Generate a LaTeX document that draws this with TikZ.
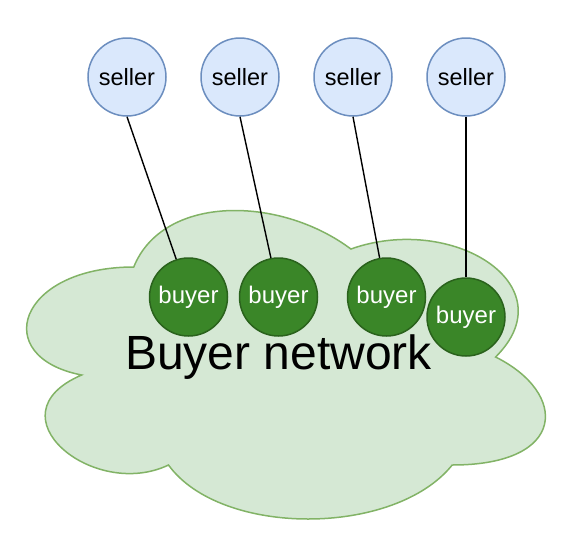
\documentclass[tikz,border=0pt]{standalone}
\usepackage{fontspec}
\setmainfont{Liberation Sans}
\usepackage{tikz}
\usetikzlibrary{positioning}
\usepackage{xcolor}
\definecolor{sellerfill}{HTML}{DAE8FC}
\definecolor{sellerline}{HTML}{6C8EBF}
\definecolor{buyerfill}{HTML}{3A8628}
\definecolor{buyerline}{HTML}{2A621C}
\definecolor{cloudfill}{HTML}{D5E8D4}
\definecolor{cloudline}{HTML}{82B366}

\begin{document}
\begin{tikzpicture}[x=1pt, y=-1pt,
  sellernode/.style={circle, draw=sellerline, fill=sellerfill, line width=1.5pt,
                     minimum size=78pt, inner sep=0pt,
                     font=\fontsize{23.5}{27}\selectfont},
  buyernode/.style={circle, draw=buyerline, fill=buyerfill, line width=1.5pt,
                    minimum size=78pt, inner sep=0pt, text=white,
                    font=\fontsize{24}{28}\selectfont},
  link/.style={draw=black, line width=1.4pt}
]
  \useasboundingbox (0,0) rectangle (576,542);

  % the buyer network cloud
  \draw[cloudline, fill=cloudfill, line width=1.5pt]
    (133.75,267) .. controls (17.95,267) and (-11,357) .. (81.64,375)
    .. controls (-11,414.6) and (93.22,501) .. (168.49,465)
    .. controls (220.6,537) and (394.3,537) .. (452.2,465)
    .. controls (568,465) and (568,393) .. (495.6,357)
    .. controls (568,285) and (452.2,213) .. (350.9,249)
    .. controls (278.5,195) and (162.7,195) .. (133.75,267) -- cycle;
  \node[font=\fontsize{48}{56}\selectfont] (net) at (278.5,357) {Buyer network};

  \node[sellernode] (s1) at (127,77) {seller};
  \node[sellernode] (s2) at (240,77) {seller};
  \node[sellernode] (s3) at (353,77) {seller};
  \node[sellernode] (s4) at (466,77) {seller};

  \node[buyernode] (b1) at (188.5,297) {buyer};
  \node[buyernode] (b2) at (278.5,297) {buyer};
  \node[buyernode] (b3) at (386.5,297) {buyer};
  \node[buyernode] (b4) at (466,317) {buyer};

  \draw[link] (s1.south) -- (b1.108);
  \draw[link] (s2.south) -- (b2.101);
  \draw[link] (s3.south) -- (b3.100);
  \draw[link] (s4.south) -- (b4.north);
\end{tikzpicture}
\end{document}
